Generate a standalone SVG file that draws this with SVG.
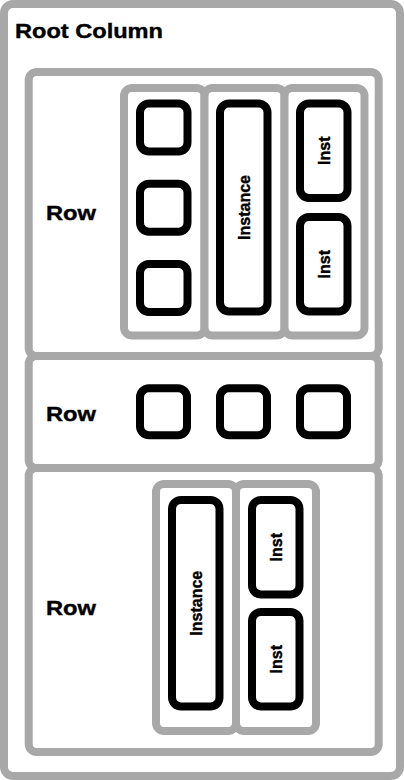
<svg xmlns="http://www.w3.org/2000/svg" width="404" height="780" viewBox="0 0 404 780">
<style>
.g{fill:#fff;stroke:#a8a8a8;stroke-width:8}
.grp{fill:#fff;stroke:#a8a8a8;stroke-width:8}
.b{fill:#fff;stroke:#000;stroke-width:8}
.t{font-family:"Liberation Sans",Arial,sans-serif;font-weight:bold;fill:#000;stroke:#000;stroke-width:0.4}
.h{font-size:20.5px}
.r{font-size:20px}
.v{font-size:16px;text-anchor:middle}
</style>
<g id="root">
<rect class="g" x="4" y="4" width="396" height="772" rx="9"/>
<text class="t h" x="15" y="37.5" textLength="148" lengthAdjust="spacingAndGlyphs">Root Column</text>
</g>
<g id="row1">
<rect class="g" x="28.7" y="72" width="350" height="284" rx="8"/>
<text class="t r" x="46" y="219.5" textLength="50" lengthAdjust="spacingAndGlyphs">Row</text>
</g>
<g id="row2">
<rect class="g" x="28.7" y="356" width="350" height="112" rx="8"/>
<text class="t r" x="46" y="421" textLength="50" lengthAdjust="spacingAndGlyphs">Row</text>
</g>
<g id="row3">
<rect class="g" x="28.7" y="468" width="350" height="284" rx="8"/>
<text class="t r" x="46" y="614.5" textLength="50" lengthAdjust="spacingAndGlyphs">Row</text>
</g>
<g id="row1-col1"><rect class="grp" x="124" y="88" width="80.5" height="247.5" rx="8"/></g>
<g id="row1-col2"><rect class="grp" x="204.5" y="88" width="80" height="247.5" rx="8"/></g>
<g id="row1-col3"><rect class="grp" x="284.5" y="88" width="80" height="247.5" rx="8"/></g>
<g id="r1-box1"><rect class="b" x="140" y="103.5" width="47.5" height="48" rx="9"/></g>
<g id="r1-box2"><rect class="b" x="140" y="183.75" width="47.5" height="48" rx="9"/></g>
<g id="r1-box3"><rect class="b" x="140" y="264" width="47.5" height="48" rx="9"/></g>
<g id="r1-instance">
<rect class="b" x="220" y="103.5" width="47.5" height="208" rx="9"/>
<text class="t v" transform="translate(243.75 207.5) rotate(-90)" dy="0.36em" textLength="65" lengthAdjust="spacingAndGlyphs">Instance</text>
</g>
<g id="r1-inst1">
<rect class="b" x="300" y="103.5" width="47.5" height="94.5" rx="9"/>
<text class="t v" transform="translate(323.75 150.75) rotate(-90)" dy="0.36em">Inst</text>
</g>
<g id="r1-inst2">
<rect class="b" x="300" y="217" width="47.5" height="94.5" rx="9"/>
<text class="t v" transform="translate(323.75 264.25) rotate(-90)" dy="0.36em">Inst</text>
</g>
<g id="r2-box1"><rect class="b" x="140" y="388.3" width="47" height="47" rx="9"/></g>
<g id="r2-box2"><rect class="b" x="220" y="388.3" width="47" height="47" rx="9"/></g>
<g id="r2-box3"><rect class="b" x="300" y="388.3" width="47" height="47" rx="9"/></g>
<g id="row3-col1"><rect class="grp" x="156" y="484" width="80" height="247" rx="8"/></g>
<g id="row3-col2"><rect class="grp" x="236" y="484" width="80" height="247" rx="8"/></g>
<g id="r3-instance">
<rect class="b" x="172" y="500" width="47.5" height="206.5" rx="9"/>
<text class="t v" transform="translate(195.75 603.25) rotate(-90)" dy="0.36em" textLength="65" lengthAdjust="spacingAndGlyphs">Instance</text>
</g>
<g id="r3-inst1">
<rect class="b" x="252" y="500" width="47.5" height="94.5" rx="9"/>
<text class="t v" transform="translate(275.75 547.25) rotate(-90)" dy="0.36em">Inst</text>
</g>
<g id="r3-inst2">
<rect class="b" x="252" y="612" width="47.5" height="94.5" rx="9"/>
<text class="t v" transform="translate(275.75 659.25) rotate(-90)" dy="0.36em">Inst</text>
</g>
<g id="connectors"/>
</svg>
